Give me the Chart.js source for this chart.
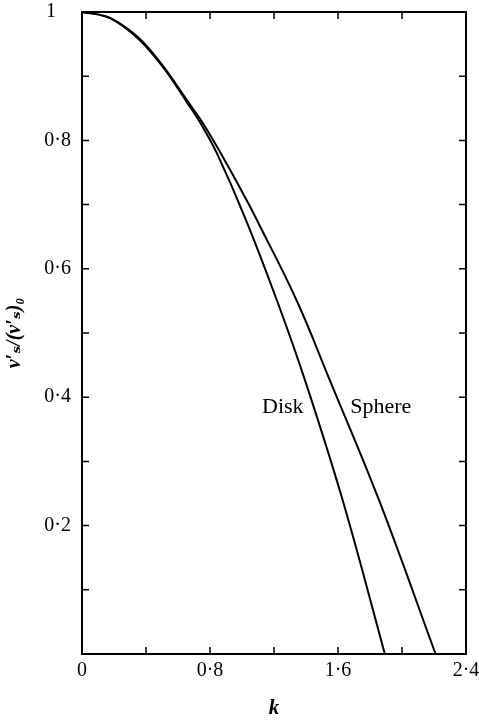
<!DOCTYPE html>
<html>
<head>
<meta charset="utf-8">
<script src="https://cdn.jsdelivr.net/npm/chart.js@4"></script>
<style>
  html, body { margin: 0; padding: 0; background: #fff; }
  #wrap { width: 479px; height: 723px; }
</style>
</head>
<body>
<div id="wrap"><canvas id="grafico"></canvas></div>
<script>
// valores
const kDisk = [0, 0.15, 0.25, 0.37, 0.5, 0.589, 0.649, 0.75, 0.845, 1.025, 1.218, 1.393, 1.631, 1.893];
const vDisk = [1, 0.993, 0.979, 0.954, 0.916, 0.885, 0.862, 0.823, 0.779, 0.676, 0.551, 0.427, 0.238, 0];
const kSphere = [0, 0.15, 0.25, 0.37, 0.5, 0.589, 0.649, 0.75, 0.876, 1.031, 1.093, 1.341, 1.548, 1.859, 2.21];
const vSphere = [1, 0.993, 0.98, 0.956, 0.918, 0.887, 0.865, 0.829, 0.776, 0.706, 0.676, 0.551, 0.427, 0.238, 0];
const xLabels = [0, 0.8, 1.6, 2.4];
const yLabels = [0.2, 0.4, 0.6, 0.8, 1];
const curveNames = [
    { text: 'Disk', k: 1.255, v: 0.385 },
    { text: 'Sphere', k: 1.867, v: 0.385 }
];

const fonte = '"Liberation Serif", "DejaVu Serif", serif';
// "1" fica alinhado com o zero de "0·x"
const fmt = v => (Math.abs(v - 1) < 1e-9 ? '1   ' : (Math.round(v * 10) / 10).toString().replace('.', '\u00b7'));

const toPoints = (ks, vs) => ks.map((k, i) => ({ x: k, y: vs[i] }));

// moldura, marcas internas e nomes das curvas
const moldura = {
    id: 'moldura',
    afterDraw(chart) {
        const { ctx, chartArea: a, scales: { x, y } } = chart;
        ctx.save();
        ctx.strokeStyle = '#000';
        ctx.lineWidth = 2;
        ctx.strokeRect(a.left, a.top, a.right - a.left, a.bottom - a.top);
        ctx.lineWidth = 1.5;
        const len = 7;
        x.ticks.forEach(t => {
            const px = x.getPixelForValue(t.value);
            ctx.beginPath();
            ctx.moveTo(px, a.bottom); ctx.lineTo(px, a.bottom - len);
            ctx.moveTo(px, a.top); ctx.lineTo(px, a.top + len);
            ctx.stroke();
        });
        y.ticks.forEach(t => {
            const py = y.getPixelForValue(t.value);
            ctx.beginPath();
            ctx.moveTo(a.left, py); ctx.lineTo(a.left + len, py);
            ctx.moveTo(a.right, py); ctx.lineTo(a.right - len, py);
            ctx.stroke();
        });
        ctx.fillStyle = '#000';
        ctx.font = '22px ' + fonte;
        ctx.textAlign = 'center';
        ctx.textBaseline = 'middle';
        curveNames.forEach(n => {
            ctx.fillText(n.text, x.getPixelForValue(n.k), y.getPixelForValue(n.v));
        });
        ctx.restore();
    }
};

const ctx = document.getElementById('grafico');

const grafico = new Chart(ctx, {
    type: 'line',
    data: {
        datasets: [{
            label: 'Disk',
            data: toPoints(kDisk, vDisk),
            borderColor: '#000',
            borderWidth: 2,
            pointRadius: 0,
            tension: 0.4,
            fill: false
        }, {
            label: 'Sphere',
            data: toPoints(kSphere, vSphere),
            borderColor: '#000',
            borderWidth: 2,
            pointRadius: 0,
            tension: 0.4,
            fill: false
        }]
    },
    options: {
        responsive: true,
        maintainAspectRatio: false,
        animation: false,
        layout: { padding: { top: 12, right: 13, left: 0, bottom: 0 } },
        scales: {
            x: {
                type: 'linear',
                min: 0,
                max: 2.4,
                afterFit(scale) {
                    scale.height = 69;
                    scale.paddingLeft = 0;
                    scale.paddingRight = 0;
                },
                grid: { display: false, drawTicks: false },
                border: { display: false },
                ticks: {
                    stepSize: 0.4,
                    padding: 5,
                    color: '#000',
                    maxRotation: 0,
                    autoSkip: false,
                    font: { family: fonte, size: 20 },
                    callback: v => (xLabels.some(l => Math.abs(l - v) < 1e-6) ? fmt(v).trim() : '')
                },
                title: {
                    display: true,
                    text: 'k',
                    color: '#000',
                    font: { family: fonte, size: 21, style: 'italic', weight: 'bold' },
                    padding: { top: 0, bottom: 2 }
                }
            },
            y: {
                min: 0,
                max: 1,
                afterFit(scale) {
                    scale.width = 82;
                    scale.paddingTop = 0;
                    scale.paddingBottom = 0;
                },
                grid: { display: false, drawTicks: false },
                border: { display: false },
                ticks: {
                    stepSize: 0.1,
                    padding: 11,
                    color: '#000',
                    autoSkip: false,
                    font: { family: fonte, size: 20 },
                    callback: v => (yLabels.some(l => Math.abs(l - v) < 1e-6) ? fmt(v) : '')
                },
                title: {
                    display: true,
                    text: 'v\u2032\u209b/(v\u2032\u209b)\u2080',
                    color: '#000',
                    font: { family: fonte, size: 20, style: 'italic', weight: 'bold' },
                    padding: { top: 3, bottom: 0 }
                }
            }
        },
        plugins: {
            legend: { display: false },
            tooltip: { enabled: false }
        }
    },
    plugins: [moldura]
});
</script>
</body>
</html>
